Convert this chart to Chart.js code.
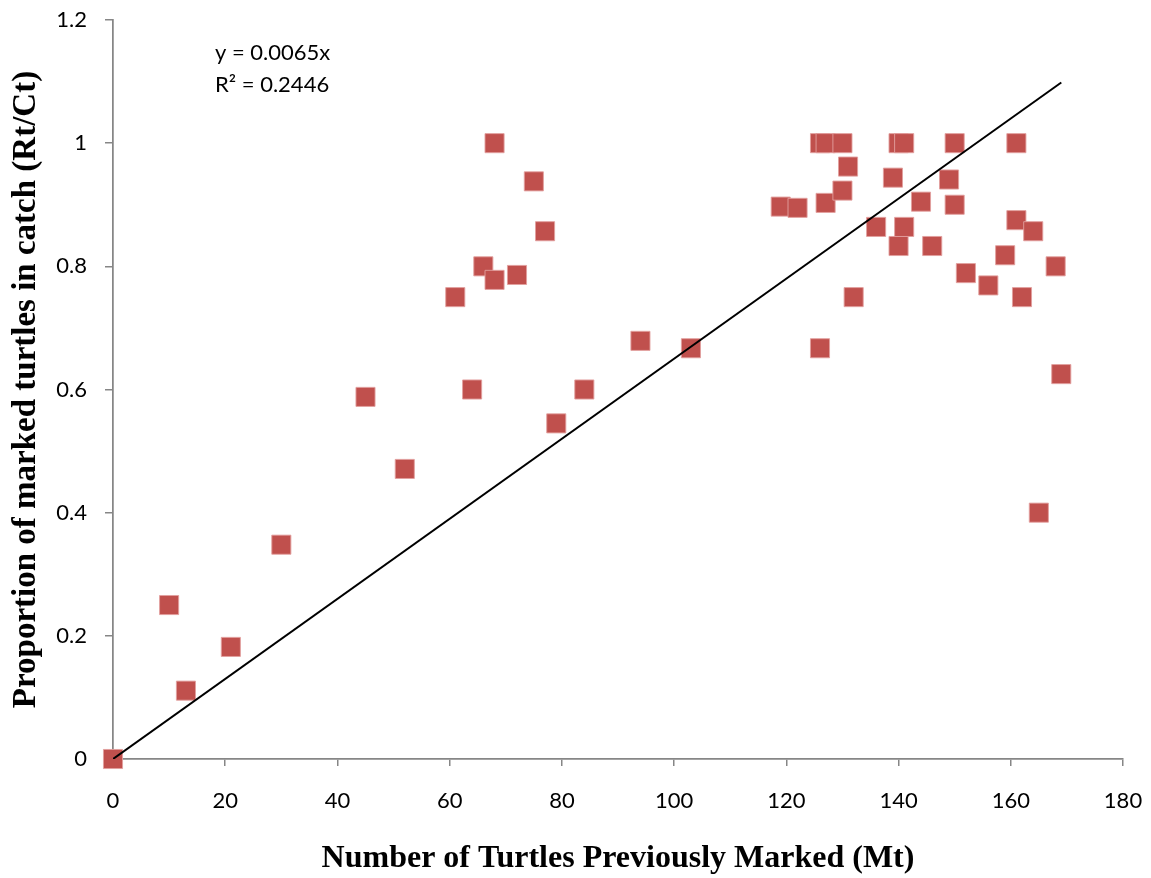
<!DOCTYPE html>
<html>
<head>
<meta charset="utf-8">
<script src="https://cdn.jsdelivr.net/npm/chart.js@4.4.1/dist/chart.umd.min.js"></script>
<style>
	body { margin: 0; background: #fff; }
	#wrap { width: 1151px; height: 878px; }
</style>
</head>
<body>
<div id="wrap"><canvas id="myChart" width="1151" height="878"></canvas></div>
<script>
// turtles previously marked (Mt)
const markedX = [0, 10, 13, 21, 30, 45, 52, 61, 64, 66, 68, 68, 72, 75, 77, 79, 84, 94, 103,
	119, 122, 126, 127, 126, 127, 130, 130, 131, 132, 136, 139, 140, 140, 141, 141, 144, 146,
	149, 150, 150, 152, 156, 159, 161, 161, 162, 164, 165, 168, 169];
// proportion of marked turtles in catch (Rt/Ct)
const proportionY = [0, 0.25, 0.111, 0.182, 0.348, 0.588, 0.471, 0.75, 0.6, 0.8, 0.778, 1.0, 0.786, 0.938, 0.857, 0.545, 0.6, 0.679, 0.667,
	0.897, 0.895, 1.0, 1.0, 0.667, 0.903, 1.0, 0.923, 0.962, 0.75, 0.864, 0.944, 1.0, 0.833, 1.0, 0.864, 0.905, 0.833,
	0.941, 1.0, 0.9, 0.789, 0.769, 0.818, 1.0, 0.875, 0.75, 0.857, 0.4, 0.8, 0.625];

// fitted trendline y = 0.0065x, drawn over the data range
const trendSlope = 0.0065;
const trendRange = [0, 169];
const equationLines = ['y = 0.0065x', 'R\u00B2 = 0.2446'];

const xTickLabels = ['0', '20', '40', '60', '80', '100', '120', '140', '160', '180'];
const yTickLabels = ['0', '0.2', '0.4', '0.6', '0.8', '1', '1.2'];

const axisGrey = '#868686';
const tickFont = { family: 'Lato', size: 22 };

const scatterPoints = markedX.map((x, i) => ({ x: x, y: proportionY[i] }));
const trendPoints = trendRange.map(x => ({ x: x, y: trendSlope * x }));

// label overhang would push the plot area in, the layout padding sets it instead
function noOverhang(scale) {
	scale.paddingTop = 0;
	scale.paddingBottom = 0;
	scale.paddingLeft = 0;
	scale.paddingRight = 0;
}

// equation label in the upper left of the plot
const equationLabel = {
	id: 'equationLabel',
	afterDatasetsDraw(chart) {
		const { ctx, chartArea } = chart;
		ctx.save();
		ctx.font = '22px Lato';
		ctx.fillStyle = '#000';
		ctx.textAlign = 'left';
		ctx.textBaseline = 'middle';
		equationLines.forEach((line, i) => {
			ctx.fillText(line, chartArea.left + 102, chartArea.top + 33 + i * 32);
		});
		ctx.restore();
	}
};

const ctx = document.getElementById('myChart');
const myChart = new Chart(ctx, {
	type: 'scatter',
	data: {
		datasets: [{
			type: 'line',
			data: trendPoints,
			borderColor: '#000',
			borderWidth: 2,
			pointRadius: 0,
			fill: false,
		}, {
			data: scatterPoints,
			pointStyle: 'rect',
			pointRadius: 13.5,
			backgroundColor: '#C0504D',
			borderColor: 'rgba(226, 160, 158, 0.9)',
			borderWidth: 1,
			clip: false,
		}]
	},
	plugins: [equationLabel],
	options: {
		responsive: false,
		animation: false,
		events: [],
		layout: {
			padding: { left: 0, top: 20, right: 28, bottom: 0 }
		},
		plugins: {
			legend: { display: false },
			tooltip: { enabled: false },
		},
		scales: {
			x: {
				type: 'linear',
				min: 0,
				max: 180,
				afterFit(scale) {
					scale.height = 119;
					noOverhang(scale);
				},
				afterBuildTicks(scale) {
					scale.ticks = xTickLabels.map(t => ({ value: Number(t) }));
				},
				border: { color: axisGrey, width: 1.75 },
				grid: {
					drawOnChartArea: false,
					color: axisGrey,
					lineWidth: 1.5,
					tickLength: 7,
				},
				ticks: {
					font: tickFont,
					color: '#000',
					padding: 22,
					maxRotation: 0,
					callback: (v, i) => xTickLabels[i],
				},
				title: {
					display: true,
					text: 'Number of Turtles Previously Marked (Mt)',
					color: '#000',
					font: { family: 'Liberation Serif', size: 32, weight: 'bold' },
					padding: { top: 0, bottom: 0 },
				}
			},
			y: {
				min: 0,
				max: 1.2,
				afterFit(scale) {
					scale.width = 113;
					noOverhang(scale);
				},
				afterBuildTicks(scale) {
					scale.ticks = yTickLabels.map(t => ({ value: Number(t) }));
				},
				border: { color: axisGrey, width: 1.75 },
				grid: {
					drawOnChartArea: false,
					color: axisGrey,
					lineWidth: 1.5,
					tickLength: 8,
				},
				ticks: {
					font: tickFont,
					color: '#000',
					padding: 18,
					callback: (v, i) => yTickLabels[i],
				},
				title: {
					display: true,
					text: 'Proportion of marked turtles in catch (Rt/Ct)',
					color: '#000',
					font: { family: 'Liberation Serif', size: 33, weight: 'bold' },
					padding: { top: 7, bottom: 0 },
				}
			}
		}
	}
});
</script>
</body>
</html>
